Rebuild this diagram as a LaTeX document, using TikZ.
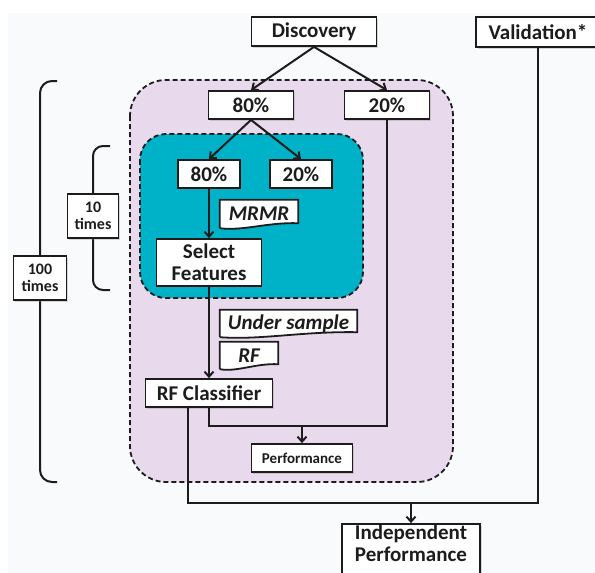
\documentclass[tikz,border=0pt]{standalone}
\usepackage{fontspec}
\setmainfont{Carlito}
\usetikzlibrary{arrows.meta,shadows}
\pgfdeclarelayer{back}
\pgfdeclarelayer{mid}
\pgfsetlayers{back,mid,main}
\definecolor{paper}{RGB}{249,250,252}
\definecolor{lilac}{RGB}{233,217,236}
\definecolor{lagoon}{RGB}{0,178,200}
\definecolor{ink}{RGB}{28,28,28}

\begin{document}
\begin{tikzpicture}[x=1pt,y=-1pt,>={Straight Barb[length=5pt,width=9pt]}]
	\tikzstyle{box}=[draw=ink,fill=white,line width=1.8pt,inner sep=0pt,align=center,text=ink,
		font=\fontsize{21}{22}\selectfont\bfseries,
		drop shadow={opacity=.3,shadow xshift=1.5pt,shadow yshift=-1.5pt}]
	\tikzstyle{small}=[box,font=\fontsize{16}{17}\selectfont\bfseries]
	\tikzstyle{tag}=[inner sep=0pt,text=ink,font=\fontsize{21}{22}\selectfont\bfseries\itshape]
	\tikzstyle{zone}=[draw=ink,line width=1.8pt,dash pattern=on 5pt off 3pt]
	\tikzstyle{link}=[draw=ink,line width=2pt]
	\useasboundingbox (0,0) rectangle (595,573);
	\begin{pgfonlayer}{back}
	\fill[paper] (8,13) rectangle (595,573);
	\draw[zone,fill=lilac,rounded corners=36pt] (130,80) rectangle (453,482);
	\draw[zone,fill=lagoon,rounded corners=26pt] (140,134) rectangle (363,298);
	\end{pgfonlayer}
	% loops
	\draw[link,rounded corners=12pt] (57,81) -- (40,81) -- (40,482) -- (57,482);
	\draw[link,rounded corners=10pt] (110,146) -- (93,146) -- (93,290) -- (110,290);
	\node[small,minimum width=53pt,minimum height=44pt](hundred) at (40,278){100\\times};
	\node[small,minimum width=51pt,minimum height=44pt](ten) at (93,216){10\\times};
	% boxes
	\node[box,minimum width=125pt,minimum height=29pt](disc) at (314,31.5){Discovery};
	\node[box,minimum width=124pt,minimum height=30pt](val) at (538,32){Validation*};
	\node[box,minimum width=85pt,minimum height=28pt](t80) at (251,105){80\%};
	\node[box,minimum width=85pt,minimum height=28pt](t20) at (387,105){20\%};
	\node[box,minimum width=62pt,minimum height=28pt](i80) at (209,174){80\%};
	\node[box,minimum width=62pt,minimum height=28pt](i20) at (301,174){20\%};
	\node[box,minimum width=105pt,minimum height=47pt](sel) at (209,262.5){Select\\Features};
	\node[box,minimum width=127pt,minimum height=28pt](rfc) at (209,393){RF Classifier};
	\node[small,font=\fontsize{15}{16}\selectfont\bfseries,minimum width=101pt,minimum height=28pt](perf) at (302,458){Performance};
	\node[box,minimum width=138pt,minimum height=60pt,text depth=22pt](indep) at (411,554){Independent\\Performance};
	% tags
	\node[tag,minimum width=78pt,minimum height=28pt](mrmr) at (259,214){MRMR};
	\node[tag,minimum width=137pt,minimum height=27pt](under) at (288.5,323.5){Under sample};
	\node[tag,minimum width=58pt,minimum height=27pt](rf) at (249,355.5){RF};
	\begin{pgfonlayer}{mid}
	\foreach \t/\w in {mrmr/78,under/137,rf/58}{
	\filldraw[fill=white,draw=ink,line width=1.8pt] (\t.south west) -- (\t.north west) -- (\t.north east) -- ([yshift=5pt]\t.south east)
		.. controls ([xshift=-0.4*\w pt,yshift=6pt]\t.south east) and ([xshift=0.3*\w pt,yshift=-3pt]\t.south west) .. (\t.south west);
	}
	\end{pgfonlayer}
	% connectors
	\draw[link,->] (disc.south) -- (t80.north);
	\draw[link,->] (disc.south) -- (t20.north);
	\draw[link,->] (t80.south) -- (i80.north);
	\draw[link,->] (t80.south) -- (i20.north);
	\draw[link,->] (i80.south) -- (sel.north);
	\draw[link,->] (sel.south) -- (rfc.north);
	\coordinate (join) at (302,426);
	\draw[link] (rfc.south) |- (join) -| (t20.south);
	\draw[link,->] (join) -- (perf.north);
	\coordinate (low) at (411,503);
	\draw[link] ([xshift=-21pt]rfc.south) |- (low) -| (val.south);
	\draw[link,->] (low) -- (indep.north);
\end{tikzpicture}
\end{document}
